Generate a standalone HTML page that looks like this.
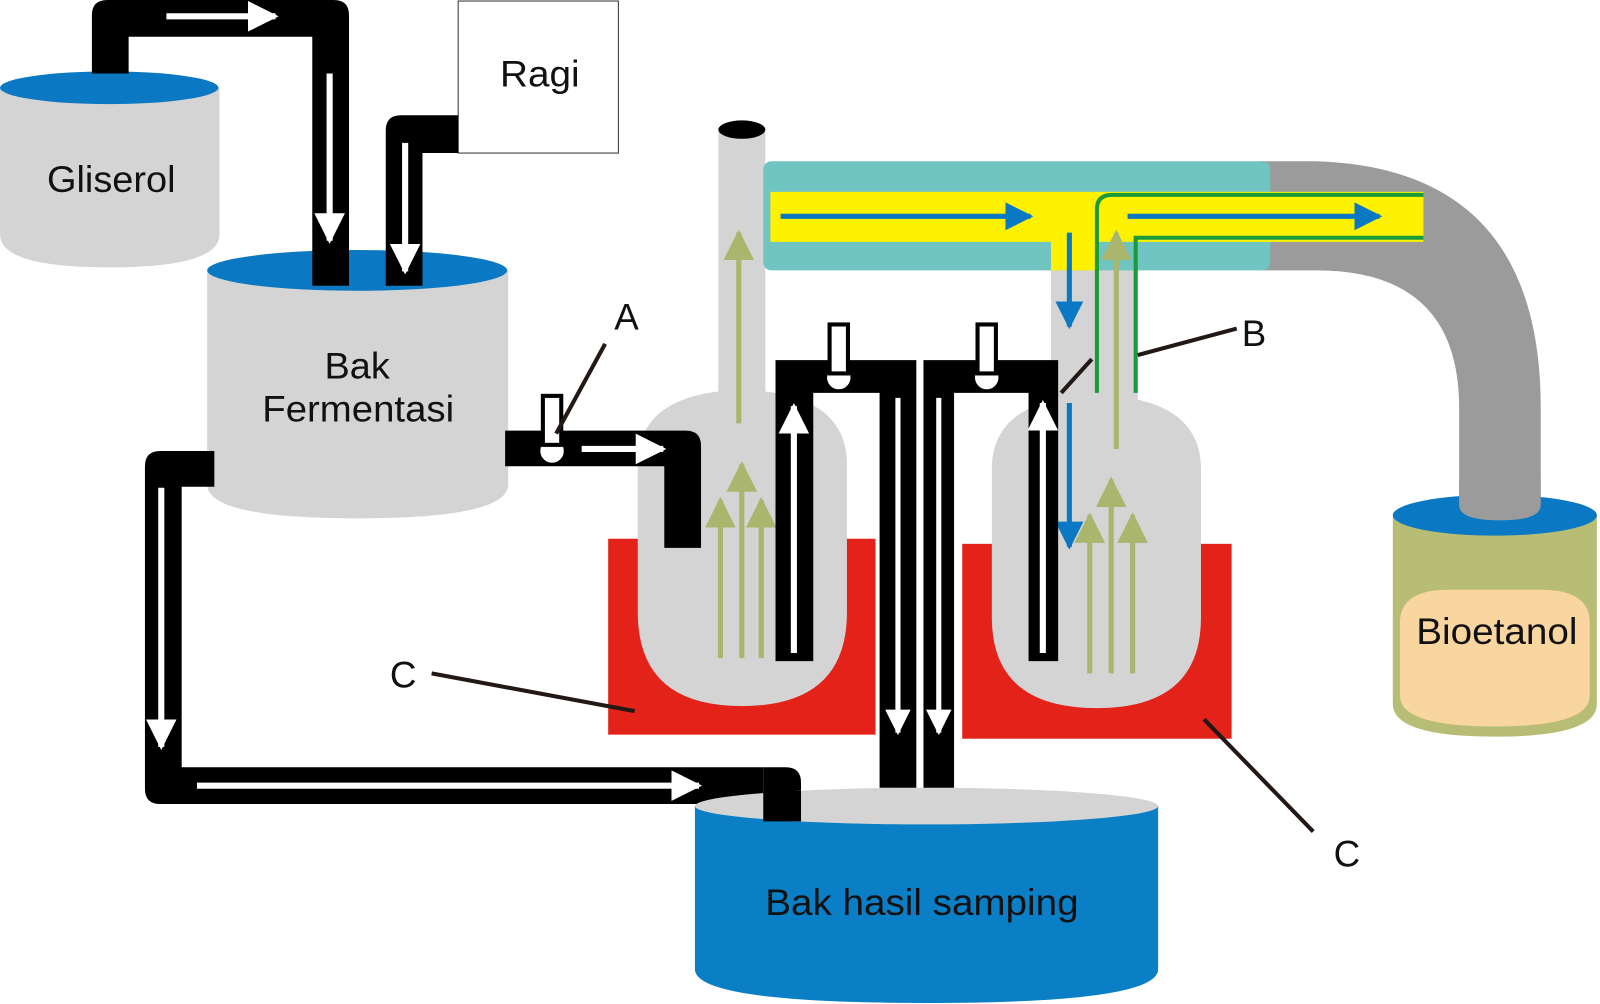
<!DOCTYPE html>
<html><head><meta charset="utf-8"><style>html,body{margin:0;padding:0;background:#fff}svg{display:block}text{font-family:"Liberation Sans",sans-serif;fill:#111}</style></head>
<body>
<svg width="1600" height="1004" viewBox="0 0 1568 984" xmlns="http://www.w3.org/2000/svg">
<defs>
<marker id="wa" viewBox="0 0 10 10" refX="9" refY="5" markerWidth="5" markerHeight="5" markerUnits="strokeWidth" orient="auto"><path d="M0,0L10,5L0,10z" fill="#fff"/></marker>
<marker id="ga" viewBox="0 0 10 10" refX="9" refY="5" markerWidth="6" markerHeight="6" markerUnits="strokeWidth" orient="auto"><path d="M0,0L10,5L0,10z" fill="#aab56e"/></marker>
<marker id="ba" viewBox="0 0 10 10" refX="9" refY="5" markerWidth="5.5" markerHeight="5.5" markerUnits="strokeWidth" orient="auto"><path d="M0,0L10,5L0,10z" fill="#0a78c2"/></marker>
</defs>

<path d="M1235,158 L1290,158 Q1510,165 1510,400 L1510,505 L1430,505 L1430,400 Q1430,265 1290,265 L1235,265 Z" fill="#9b9b9b"/>

<path d="M0,86 L215,86 L215,230 Q215,262 107,262 Q0,262 0,230 Z" fill="#d4d4d4"/>
<ellipse cx="107" cy="86" rx="107" ry="16" fill="#0a78c2"/>
<text x="46" y="188" font-size="36" textLength="126" lengthAdjust="spacingAndGlyphs">Gliserol</text>

<path d="M203,265 L498,265 L498,475 Q498,508 350,508 Q203,508 203,475 Z" fill="#d4d4d4"/>
<ellipse cx="350" cy="265" rx="147" ry="20" fill="#0a78c2"/>
<text x="318" y="371" font-size="36" textLength="64" lengthAdjust="spacingAndGlyphs">Bak</text>
<text x="257" y="413" font-size="36" textLength="188" lengthAdjust="spacingAndGlyphs">Fermentasi</text>

<rect x="449" y="1" width="157" height="149" fill="#fff" stroke="#333" stroke-width="1"/>
<text x="490" y="85" font-size="36" textLength="78" lengthAdjust="spacingAndGlyphs">Ragi</text>

<path d="M90,72 L90,15 Q90,0 105,0 L327,0 Q342,0 342,15 L342,280 L306,280 L306,36 L126,36 L126,72 Z" fill="#000"/>
<line x1="163" y1="16" x2="270" y2="16" stroke="#fff" stroke-width="6" marker-end="url(#wa)"/>
<line x1="323" y1="72" x2="323" y2="236" stroke="#fff" stroke-width="6" marker-end="url(#wa)"/>
<path d="M449,113 L393,113 Q378,113 378,128 L378,280 L414,280 L414,150 L449,150 Z" fill="#000"/>
<line x1="397" y1="140" x2="397" y2="266" stroke="#fff" stroke-width="6" marker-end="url(#wa)"/>

<path d="M210,442 L157,442 Q142,442 142,457 L142,773 Q142,788 157,788 L785,788 L785,805 L748,805 L748,788 L748,752 L178,752 L178,477 L210,477 Z" fill="#000"/>
<path d="M748,752 L770,752 Q785,752 785,767 L785,805 L748,805 Z" fill="#000"/>
<line x1="158" y1="478" x2="158" y2="732" stroke="#fff" stroke-width="6" marker-end="url(#wa)"/>
<line x1="193" y1="770" x2="685" y2="770" stroke="#fff" stroke-width="6" marker-end="url(#wa)"/>

<path d="M681,790 L1135,790 L1135,950 Q1135,983 908,983 Q681,983 681,950 Z" fill="#0a7fc6"/>
<ellipse cx="908" cy="790" rx="227" ry="18" fill="#d4d4d4"/>
<path d="M748,775 L785,775 L785,805 L748,805 Z" fill="#000"/>
<text x="750" y="897" font-size="36" textLength="307" lengthAdjust="spacingAndGlyphs">Bak hasil samping</text>

<rect x="596" y="528" width="262" height="192" fill="#e32219"/>
<rect x="943" y="533" width="264" height="191" fill="#e32219"/>

<rect x="704" y="127" width="46" height="270" fill="#d4d4d4"/>
<path d="M625,600 L625,455 Q625,385 727,382 Q830,385 830,455 L830,600 Q830,692 727,692 Q625,692 625,600 Z" fill="#d4d4d4"/>
<ellipse cx="727" cy="127" rx="23" ry="9" fill="#000"/>
<rect x="1030" y="237" width="85" height="160" fill="#d4d4d4"/>
<path d="M972,605 L972,460 Q972,390 1075,387 Q1177,390 1177,460 L1177,605 Q1177,694 1075,694 Q972,694 972,605 Z" fill="#d4d4d4"/>

<rect x="748" y="158" width="497" height="107" rx="8" fill="#70c4c2"/>
<path d="M755,188 L1395,188 L1395,237 L1075,237 L1075,265 L1030,265 L1030,237 L755,237 Z" fill="#fff200"/>
<line x1="765" y1="212" x2="1010" y2="212" stroke="#0a78c2" stroke-width="5" marker-end="url(#ba)"/>
<line x1="1105" y1="212" x2="1352" y2="212" stroke="#0a78c2" stroke-width="5" marker-end="url(#ba)"/>
<path d="M1075,385 L1075,205 Q1075,191 1090,191 L1395,191" fill="none" stroke="#1a9a3a" stroke-width="4"/>
<path d="M1113,385 L1113,233 L1395,233" fill="none" stroke="#1a9a3a" stroke-width="4"/>
<line x1="1048" y1="228" x2="1048" y2="320" stroke="#0a78c2" stroke-width="5" marker-end="url(#ba)"/>
<line x1="1048" y1="395" x2="1048" y2="536" stroke="#0a78c2" stroke-width="5" marker-end="url(#ba)"/>

<g stroke="#aab56e" stroke-width="5" marker-end="url(#ga)">
<line x1="724" y1="415" x2="724" y2="228"/>
<line x1="706" y1="645" x2="706" y2="490"/>
<line x1="727" y1="645" x2="727" y2="455"/>
<line x1="746" y1="645" x2="746" y2="490"/>
<line x1="1094" y1="440" x2="1094" y2="228"/>
<line x1="1068" y1="660" x2="1068" y2="505"/>
<line x1="1089" y1="660" x2="1089" y2="470"/>
<line x1="1110" y1="660" x2="1110" y2="505"/>
</g>

<path d="M495,422 L672,422 Q687,422 687,437 L687,537 L651,537 L651,457 L495,457 Z" fill="#000"/>
<line x1="570" y1="440" x2="650" y2="440" stroke="#fff" stroke-width="6" marker-end="url(#wa)"/>
<circle cx="541" cy="442" r="13" fill="#fff" stroke="#000" stroke-width="3"/>
<rect x="532" y="388" width="18" height="48" fill="#fff" stroke="#000" stroke-width="4"/>

<path d="M760,648 L760,353 L898,353 L898,772 L862,772 L862,385 L797,385 L797,648 Z" fill="#000"/>
<path d="M905,772 L905,353 L1037,353 L1037,648 L1008,648 L1008,385 L935,385 L935,772 Z" fill="#000"/>
<line x1="778" y1="640" x2="778" y2="398" stroke="#fff" stroke-width="6" marker-end="url(#wa)"/>
<line x1="1022" y1="640" x2="1022" y2="395" stroke="#fff" stroke-width="6" marker-end="url(#wa)"/>
<line x1="880" y1="390" x2="880" y2="718" stroke="#fff" stroke-width="5" marker-end="url(#wa)"/>
<line x1="920" y1="390" x2="920" y2="718" stroke="#fff" stroke-width="5" marker-end="url(#wa)"/>
<circle cx="822" cy="370" r="13" fill="#fff" stroke="#000" stroke-width="3"/>
<rect x="813" y="318" width="18" height="48" fill="#fff" stroke="#000" stroke-width="4"/>
<circle cx="967" cy="370" r="13" fill="#fff" stroke="#000" stroke-width="3"/>
<rect x="958" y="318" width="18" height="48" fill="#fff" stroke="#000" stroke-width="4"/>

<path d="M1365,505 L1565,505 L1565,690 Q1565,722 1465,722 Q1365,722 1365,690 Z" fill="#b7bd74"/>
<path d="M1372,610 Q1372,578 1420,578 L1510,578 Q1558,578 1558,610 L1558,682 Q1558,712 1465,712 Q1372,712 1372,682 Z" fill="#f9d59f"/>
<ellipse cx="1465" cy="505" rx="100" ry="20" fill="#0a78c2"/>
<path d="M1430,470 L1510,470 L1510,495 Q1510,510 1470,510 Q1430,510 1430,495 Z" fill="#9b9b9b"/>
<text x="1388" y="631" font-size="36" textLength="158" lengthAdjust="spacingAndGlyphs">Bioetanol</text>

<g stroke="#231815" stroke-width="4">
<line x1="593" y1="337" x2="545" y2="425"/>
<line x1="1115" y1="348" x2="1212" y2="322"/>
<line x1="1040" y1="385" x2="1070" y2="352"/>
<line x1="423" y1="660" x2="622" y2="697"/>
<line x1="1180" y1="705" x2="1287" y2="815"/>
</g>
<text x="614" y="323" font-size="36" text-anchor="middle">A</text>
<text x="1229" y="339" font-size="36" text-anchor="middle">B</text>
<text x="395" y="674" font-size="36" text-anchor="middle">C</text>
<text x="1320" y="849" font-size="36" text-anchor="middle">C</text>
</svg>
</body></html>
